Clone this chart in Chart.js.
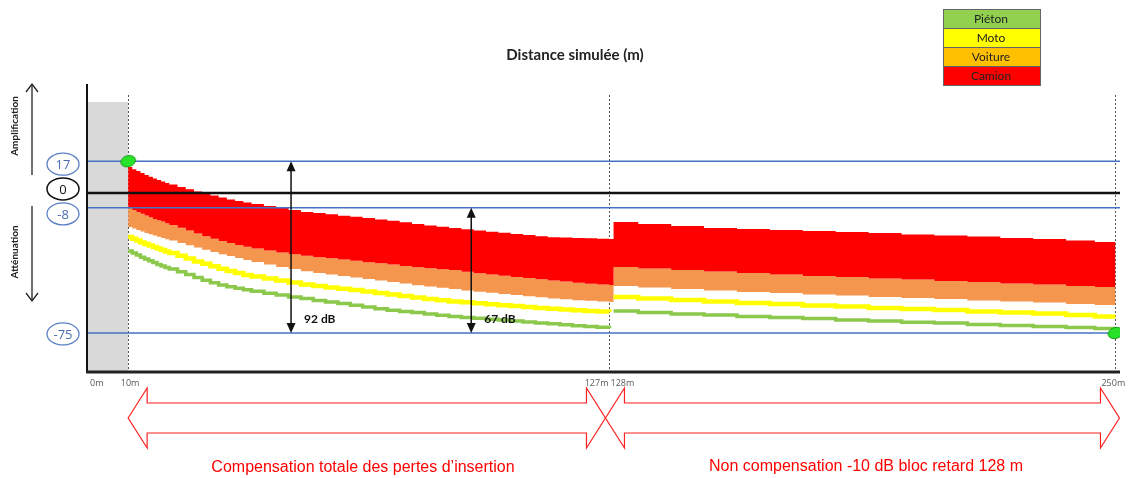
<!DOCTYPE html>
<html>
<head>
<meta charset="utf-8">
<script src="https://cdn.jsdelivr.net/npm/chart.js@4"></script>
<style>
  body { margin: 0; background: #fff; }
  #wrap { width: 1128px; height: 478px; }
</style>
</head>
<body>
<div id="wrap"><canvas id="attChart" width="1128" height="478"></canvas></div>
<script>
// distances (m) of each step; 10..127 = section compensée, 128..250 = bloc retard
const dist = [10, 11, 12, 13, 14, 15, 16, 17, 18, 19, 20, 22, 24, 26, 28, 30, 32, 34, 36, 38, 40,
              43, 46, 49, 52, 55, 58, 61, 64, 67, 70, 73, 76, 79, 82, 85, 88, 91, 94, 97, 100, 103, 106, 109, 112, 115, 118, 121, 124, 127,
              128, 134, 142, 150, 158, 166, 174, 182, 190, 198, 206, 214, 222, 230, 238, 245, 250];

// levels in dB
const camionTop = [13.8, 12.7, 11.7, 10.6, 9.6, 8.6, 7.7, 6.9, 6.1, 5.3, 4.5, 3.2, 2.0, 0.7, -0.4, -1.4, -2.5, -3.5, -4.4, -5.2, -5.9,
                   -7.0, -8.1, -9.2, -10.2, -10.8, -11.5, -12.2, -12.8, -13.5, -14.2, -14.9, -15.7, -16.6, -17.4, -18.1, -18.8, -19.5, -20.2, -20.8, -21.4, -22.0, -22.6, -23.2, -23.7, -23.9, -24.1, -24.3, -24.5, -24.7,
                   -15.6, -16.6, -17.7, -18.8, -19.3, -19.9, -20.4, -20.9, -21.5, -22.3, -22.8, -23.4, -24.2, -24.7, -25.5, -26.3, -26.3];
const camionBottom = [-8.1, -9.2, -10.2, -11.2, -12.1, -13.1, -14.0, -14.7, -15.3, -16.3, -17.2, -18.6, -20.1, -21.7, -23.2, -24.5, -25.7, -26.8, -27.9, -28.9, -29.8,
                      -30.9, -31.9, -32.9, -33.7, -34.4, -35.0, -35.7, -36.4, -37.1, -37.7, -38.4, -39.1, -39.8, -40.4, -40.9, -41.3, -42.2, -43.0, -43.7, -44.3, -45.0, -45.6, -46.3, -46.9, -47.5, -48.1, -48.6, -49.0, -49.3,
                      -39.7, -40.5, -41.3, -42.1, -42.9, -43.7, -44.5, -45.0, -45.8, -46.4, -47.2, -47.7, -48.5, -49.0, -49.8, -50.4, -50.4];
const voitureBottom = [-18.3, -19.1, -19.9, -20.7, -21.5, -22.1, -22.8, -23.5, -24.2, -24.8, -25.5, -26.8, -28.0, -29.2, -30.5, -31.7, -32.8, -33.8, -34.9, -35.9, -37.0,
                       -38.4, -39.7, -40.8, -41.9, -42.9, -43.7, -44.5, -45.3, -46.1, -46.9, -47.7, -48.5, -49.4, -50.1, -50.8, -51.5, -52.2, -52.9, -53.5, -54.1, -54.7, -55.3, -55.9, -56.5, -57.0, -57.5, -57.8, -58.1, -58.4,
                       -49.9, -50.7, -51.5, -52.3, -53.1, -53.6, -54.4, -54.9, -55.7, -56.3, -56.8, -57.6, -58.1, -58.7, -59.5, -60.0, -60.0];
const moto = [-23.6, -24.6, -25.5, -26.5, -27.4, -28.2, -29.0, -29.8, -30.6, -31.4, -32.2, -33.6, -35.1, -36.7, -38.0, -39.3, -40.6, -41.8, -42.9, -43.9, -44.8,
              -45.9, -46.9, -48.0, -49.1, -49.9, -50.6, -51.3, -52.0, -52.8, -53.6, -54.4, -55.2, -56.0, -56.8, -57.5, -58.2, -58.6, -59.1, -59.6, -60.1, -60.6, -61.1, -61.6, -62.0, -62.5, -62.9, -63.2, -63.5, -63.8,
              -55.8, -56.6, -57.4, -58.2, -59.0, -59.5, -60.3, -60.8, -61.6, -62.2, -62.7, -63.5, -64.0, -64.6, -65.4, -66.2, -66.2];
const pieton = [-31.1, -32.2, -33.3, -34.4, -35.4, -36.4, -37.3, -38.3, -39.2, -40.0, -40.8, -42.2, -43.7, -45.3, -46.8, -48.1, -49.3, -50.3, -51.1, -51.9, -52.7,
                -53.7, -54.7, -55.7, -56.6, -57.6, -58.4, -59.2, -60.1, -61.1, -62.0, -62.8, -63.5, -64.1, -64.8, -65.5, -66.2, -66.7, -67.1, -67.6, -68.1, -68.6, -69.1, -69.6, -70.1, -70.6, -71.1, -71.6, -72.0, -72.4,
                -63.3, -64.1, -64.9, -65.4, -66.2, -66.7, -67.3, -68.1, -68.6, -69.2, -69.7, -70.5, -71.0, -71.6, -72.1, -72.6, -72.6];

// reference levels and left labels
const refLevels = [17, 0, -8, -75];
const refLabels = ['17', '0', '-8', '-75'];
const markerDist = [10, 250];
const markerLevel = [17, -75];

// measurement arrows
const measureAt = [49.6, 93.4];
const measureFrom = [17, -8];
const measureTo = [-75, -75];

// x axis labels
const xTickValues = [0, 10, 127, 128, 250];
const xTickLabels = ['0m', '10m', '127m', '128m', '250m'];
const dottedAt = [10, 127, 250];
const greyZone = [0, 10];
const greyTop = 48.7;
const breakAt = 127; // no line drawn across the 127 -> 128 m jump

const legendNames = ['Piéton', 'Moto', 'Voiture', 'Camion'];
const legendColors = ['#92d050', '#ffff00', '#ffc000', '#ff0000'];

const sectionTitles = ['Compensation totale des pertes d\u2019insertion', 'Non compensation -10 dB bloc retard 128 m'];

const X_MIN = 0, X_MAX = 251.1, Y_MIN = -95.9, Y_MAX = 58.3;

const pts = arr => dist.map((d, i) => ({ x: d, y: arr[i] }));
const hideBreak = c => (c.p0.parsed.x === breakAt ? 'rgba(0,0,0,0)' : undefined);

const blob = document.createElement('canvas');
blob.width = 18; blob.height = 14;
(() => {
    const c = blob.getContext('2d');
    c.fillStyle = '#27e227';
    c.strokeStyle = '#169a16';
    c.lineWidth = 1;
    c.beginPath();
    c.ellipse(9, 7, 7.5, 5.5, -0.3, 0, Math.PI * 2);
    c.fill();
    c.stroke();
})();

const levelColors = ['#4472c4', '#111111', '#4472c4', '#4472c4'];
const levelWidths = [1.5, 2.5, 1.5, 1.5];

const refDatasets = refLevels.map((v, i) => ({
    label: 'ref' + v,
    data: [{ x: X_MIN, y: v }, { x: X_MAX, y: v }],
    borderColor: levelColors[i],
    borderWidth: levelWidths[i],
    pointRadius: 0,
    fill: false,
    order: 2
}));

const datasets = [
    {
        label: 'markers',
        type: 'scatter',
        data: markerDist.map((d, i) => ({ x: d, y: markerLevel[i] })),
        pointStyle: blob,
        pointRadius: 7,
        order: 1
    },
    ...refDatasets,
    { label: 'Camion', data: pts(camionTop), stepped: true, borderWidth: 0, borderColor: 'rgba(0,0,0,0)', backgroundColor: '#ff0000', fill: '+1', pointRadius: 0, order: 5 },
    { label: 'Voiture', data: pts(camionBottom), stepped: true, borderWidth: 0, borderColor: 'rgba(0,0,0,0)', backgroundColor: '#f5964f', fill: '+1', pointRadius: 0, order: 6 },
    { label: 'voitureBas', data: pts(voitureBottom), stepped: true, borderWidth: 0, borderColor: 'rgba(0,0,0,0)', fill: false, pointRadius: 0, order: 7 },
    { label: 'Moto', data: pts(moto), stepped: true, borderWidth: 4.5, borderColor: '#ffff00', fill: false, pointRadius: 0, order: 4,
      segment: { borderColor: hideBreak } },
    { label: 'Piéton', data: pts(pieton), stepped: true, borderWidth: 3.5, borderColor: '#8cc84b', fill: false, pointRadius: 0, order: 3,
      segment: { borderColor: hideBreak } }
];

function arrowHead(ctx, x, y, dir) {
    ctx.beginPath();
    ctx.moveTo(x, y);
    ctx.lineTo(x - 4.5, y - dir * 10);
    ctx.lineTo(x + 4.5, y - dir * 10);
    ctx.closePath();
    ctx.fill();
}

function hollowArrow(ctx, xL, xR, cy) {
    const hl = 19, hh = 30, sh = 15;
    ctx.beginPath();
    ctx.moveTo(xL, cy);
    ctx.lineTo(xL + hl, cy - hh);
    ctx.lineTo(xL + hl, cy - sh);
    ctx.lineTo(xR - hl, cy - sh);
    ctx.lineTo(xR - hl, cy - hh);
    ctx.lineTo(xR, cy);
    ctx.lineTo(xR - hl, cy + hh);
    ctx.lineTo(xR - hl, cy + sh);
    ctx.lineTo(xL + hl, cy + sh);
    ctx.lineTo(xL + hl, cy + hh);
    ctx.closePath();
    ctx.stroke();
}

const decor = {
    id: 'decor',
    beforeDatasetsDraw(chart) {
        const { ctx, chartArea: a } = chart;
        const x = chart.scales.x, y = chart.scales.y;
        ctx.save();
        // grey zone 0-10 m
        const gx0 = x.getPixelForValue(greyZone[0]);
        const gx1 = x.getPixelForValue(greyZone[1]);
        const gy = y.getPixelForValue(greyTop);
        ctx.fillStyle = '#d9d9d9';
        ctx.fillRect(gx0, gy, gx1 - gx0, a.bottom - gy);
        // dotted verticals
        ctx.setLineDash([2, 2]);
        ctx.strokeStyle = '#555';
        ctx.lineWidth = 1;
        dottedAt.forEach(m => {
            const px = Math.round(x.getPixelForValue(m)) + 0.5;
            ctx.beginPath();
            ctx.moveTo(px, a.top + 11);
            ctx.lineTo(px, a.bottom);
            ctx.stroke();
        });
        ctx.restore();
    },
    afterDatasetsDraw(chart) {
        const { ctx, chartArea: a } = chart;
        ctx.save();
        ctx.strokeStyle = '#111';
        ctx.lineWidth = 2;
        ctx.beginPath();
        ctx.moveTo(a.left, a.top);
        ctx.lineTo(a.left, a.bottom);
        ctx.stroke();
        ctx.strokeStyle = '#222';
        ctx.lineWidth = 3;
        ctx.beginPath();
        ctx.moveTo(a.left - 1, a.bottom);
        ctx.lineTo(a.right, a.bottom);
        ctx.stroke();
        ctx.restore();
    },
    afterDraw(chart) {
        const { ctx, chartArea: a } = chart;
        const x = chart.scales.x, y = chart.scales.y;
        ctx.save();

        // title
        ctx.fillStyle = '#222';
        ctx.font = "bold 15px Lato";
        ctx.textAlign = 'center';
        ctx.textBaseline = 'middle';
        ctx.fillText('Distance simulée (m)', 575, 55);

        // side arrows + words
        ctx.strokeStyle = '#222';
        ctx.fillStyle = '#222';
        ctx.lineWidth = 1.3;
        ctx.beginPath(); ctx.moveTo(32, 175); ctx.lineTo(32, 85); ctx.stroke();
        ctx.beginPath(); ctx.moveTo(26, 92); ctx.lineTo(32, 84); ctx.lineTo(38, 92); ctx.stroke();
        ctx.beginPath(); ctx.moveTo(32, 206); ctx.lineTo(32, 300); ctx.stroke();
        ctx.beginPath(); ctx.moveTo(26, 293); ctx.lineTo(32, 301); ctx.lineTo(38, 293); ctx.stroke();
        ctx.font = "bold 10px Lato";
        ctx.save(); ctx.translate(15, 126); ctx.rotate(-Math.PI / 2); ctx.fillText('Amplification', 0, 0); ctx.restore();
        ctx.save(); ctx.translate(15, 252); ctx.rotate(-Math.PI / 2); ctx.fillText('Atténuation', 0, 0); ctx.restore();

        // level labels in ellipses
        const labelShift = [3, -4, 6, 1];
        ctx.font = "13px 'Open Sans'";
        refLevels.forEach((v, i) => {
            const cy = y.getPixelForValue(v) + labelShift[i];
            const col = v === 0 ? '#111' : '#5b7fc4';
            ctx.strokeStyle = col;
            ctx.lineWidth = v === 0 ? 1.5 : 1.3;
            ctx.beginPath();
            ctx.ellipse(63, cy, 16, 11, 0, 0, Math.PI * 2);
            ctx.stroke();
            ctx.fillStyle = v === 0 ? '#111' : '#4a6bb0';
            ctx.fillText(refLabels[i], 63, cy + 1);
        });

        // measurement arrows
        ctx.strokeStyle = '#111';
        ctx.fillStyle = '#111';
        ctx.lineWidth = 1.5;
        measureAt.forEach((m, i) => {
            const px = x.getPixelForValue(m);
            const y0 = y.getPixelForValue(measureFrom[i]);
            const y1 = y.getPixelForValue(measureTo[i]);
            ctx.beginPath(); ctx.moveTo(px, y0 + 6); ctx.lineTo(px, y1 - 6); ctx.stroke();
            arrowHead(ctx, px, y0, -1);
            arrowHead(ctx, px, y1, 1);
            ctx.font = "bold 12px Lato";
            ctx.textAlign = 'left';
            ctx.fillText((measureFrom[i] - measureTo[i]) + ' dB', px + 13, y1 - 14);
        });

        // x labels
        ctx.font = "9px 'Open Sans'";
        ctx.fillStyle = '#595959';
        const tickAlign = ['left', 'center', 'right', 'left', 'left'];
        const tickShift = [3, 2, -1, -3, -14];
        xTickValues.forEach((v, i) => {
            ctx.textAlign = tickAlign[i];
            ctx.fillText(xTickLabels[i], x.getPixelForValue(v) + tickShift[i], a.bottom + 11);
        });

        // red hollow arrows
        ctx.strokeStyle = '#ff2020';
        ctx.lineWidth = 1.2;
        const xL = x.getPixelForValue(dottedAt[0]);
        const xM = x.getPixelForValue(dottedAt[1]) - 4;
        const xR = x.getPixelForValue(dottedAt[2]) + 4;
        hollowArrow(ctx, xL, xM, 418);
        hollowArrow(ctx, xM, xR, 418);
        ctx.fillStyle = '#ff0000';
        ctx.font = "16px 'Liberation Sans'";
        ctx.textAlign = 'center';
        ctx.fillText(sectionTitles[0], 363, 468);
        ctx.fillText(sectionTitles[1], 866, 467);

        // legend table
        ctx.font = "12px Lato";
        legendNames.forEach((n, i) => {
            const ly = 9 + i * 19;
            ctx.fillStyle = legendColors[i];
            ctx.fillRect(943, ly, 97, 19);
            ctx.strokeStyle = '#666';
            ctx.lineWidth = 1;
            ctx.strokeRect(943.5, ly + 0.5, 97, 19);
            ctx.fillStyle = '#222';
            ctx.fillText(n, 991, ly + 10);
        });
        ctx.restore();
    }
};

document.addEventListener('DOMContentLoaded', () => {
    const ctx = document.getElementById('attChart').getContext('2d');
    new Chart(ctx, {
        type: 'line',
        data: { datasets },
        options: {
            responsive: false,
            animation: false,
            layout: { padding: { left: 87, right: 3, top: 84, bottom: 106 } },
            plugins: {
                legend: { display: false },
                tooltip: { enabled: false },
                title: { display: false }
            },
            scales: {
                x: { type: 'linear', min: X_MIN, max: X_MAX, display: false },
                y: { type: 'linear', min: Y_MIN, max: Y_MAX, display: false }
            }
        },
        plugins: [decor]
    });
});
</script>
</body>
</html>
